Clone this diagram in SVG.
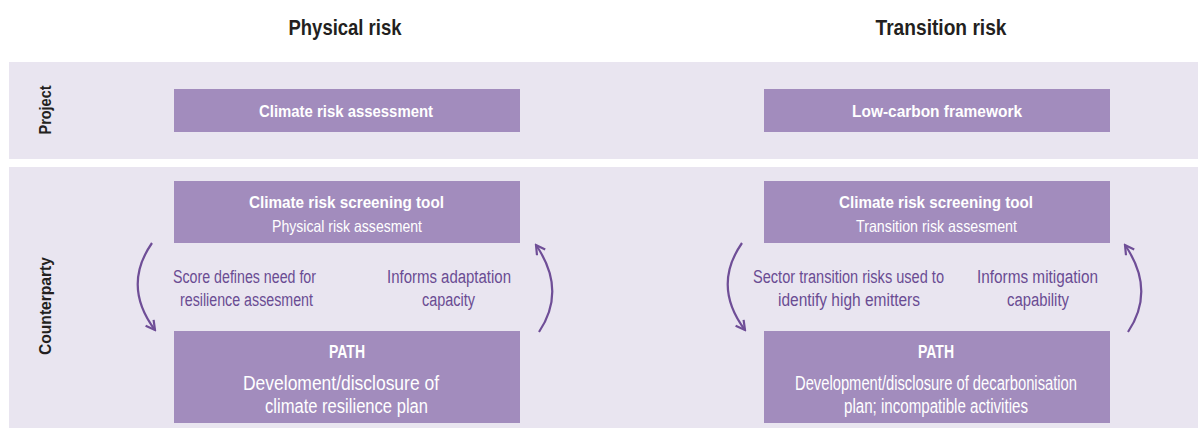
<svg xmlns="http://www.w3.org/2000/svg" width="1198" height="432" viewBox="0 0 1198 432">
<defs>
<style>
text{font-family:"Liberation Sans",Arial,sans-serif;text-anchor:middle}
.band{fill:#e9e5f0}
.box{fill:#a28cbd}
.hd{font-weight:bold;font-size:22px;fill:#231f20}
.row{font-weight:bold;font-size:16.5px;fill:#231f20}
.bt{font-weight:bold;font-size:17px;fill:#ffffff}
.rt{font-size:16.5px;fill:#ffffff}
.pt{font-size:19.5px;fill:#ffffff}
.pb{font-weight:bold;font-size:19px;fill:#ffffff}
.lb{font-size:18px;fill:#6a4c93}
.arr{fill:none;stroke:#6f4e97;stroke-width:2.2;marker-end:url(#head)}
</style>
<marker id="head" viewBox="0 0 12 12" refX="10" refY="6" markerWidth="12" markerHeight="12" markerUnits="userSpaceOnUse" orient="auto">
<path d="M1,1 L10,6 L1,11" fill="none" stroke="#6f4e97" stroke-width="2.2"/>
</marker>
</defs>
<rect width="1198" height="432" fill="#ffffff"/>
<g id="headings">
<text class="hd" x="345" y="35" textLength="113" lengthAdjust="spacingAndGlyphs">Physical risk</text>
<text class="hd" x="941" y="35" textLength="131" lengthAdjust="spacingAndGlyphs">Transition risk</text>
</g>
<g id="band-project">
<rect class="band" x="9" y="62" width="1189" height="97"/>
<text class="row" transform="translate(51,110) rotate(-90)" textLength="49" lengthAdjust="spacingAndGlyphs">Project</text>
</g>
<g id="band-counterparty">
<rect class="band" x="9" y="167" width="1189" height="261"/>
<text class="row" transform="translate(51,306) rotate(-90)" textLength="98" lengthAdjust="spacingAndGlyphs">Counterparty</text>
</g>
<g id="node-climate-risk-assessment">
<rect class="box" x="174" y="89" width="346" height="43"/>
<text class="bt" x="346" y="117" textLength="174" lengthAdjust="spacingAndGlyphs">Climate risk assessment</text>
</g>
<g id="node-low-carbon">
<rect class="box" x="764" y="89" width="346" height="43"/>
<text class="bt" x="937" y="117" textLength="170" lengthAdjust="spacingAndGlyphs">Low-carbon framework</text>
</g>
<g id="node-screening-physical">
<rect class="box" x="174" y="181" width="346" height="62"/>
<text class="bt" x="346.5" y="208" textLength="195" lengthAdjust="spacingAndGlyphs">Climate risk screening tool</text>
<text class="rt" x="347" y="232" textLength="150" lengthAdjust="spacingAndGlyphs">Physical risk assesment</text>
</g>
<g id="node-screening-transition">
<rect class="box" x="764" y="181" width="346" height="62"/>
<text class="bt" x="936" y="208" textLength="194" lengthAdjust="spacingAndGlyphs">Climate risk screening tool</text>
<text class="rt" x="936.5" y="232" textLength="161" lengthAdjust="spacingAndGlyphs">Transition risk assesment</text>
</g>
<g id="node-path-physical">
<rect class="box" x="174" y="331" width="346" height="92"/>
<text class="pb" x="347" y="358" textLength="36" lengthAdjust="spacingAndGlyphs">PATH</text>
<text class="pt" x="341" y="390" textLength="196" lengthAdjust="spacingAndGlyphs">Develoment/disclosure of</text>
<text class="pt" x="346.5" y="413" textLength="163" lengthAdjust="spacingAndGlyphs">climate resilience plan</text>
</g>
<g id="node-path-transition">
<rect class="box" x="764" y="331" width="346" height="92"/>
<text class="pb" x="936" y="358" textLength="36" lengthAdjust="spacingAndGlyphs">PATH</text>
<text class="pt" x="936" y="390" textLength="282" lengthAdjust="spacingAndGlyphs">Development/disclosure of decarbonisation</text>
<text class="pt" x="936" y="413" textLength="184" lengthAdjust="spacingAndGlyphs">plan; incompatible activities</text>
</g>
<g id="labels">
<text class="lb" x="244.5" y="283" textLength="143" lengthAdjust="spacingAndGlyphs">Score defines need for</text>
<text class="lb" x="246.5" y="306" textLength="133" lengthAdjust="spacingAndGlyphs">resilience assesment</text>
<text class="lb" x="449" y="283" textLength="124" lengthAdjust="spacingAndGlyphs">Informs adaptation</text>
<text class="lb" x="448.5" y="306" textLength="53" lengthAdjust="spacingAndGlyphs">capacity</text>
<text class="lb" x="848.5" y="283" textLength="191" lengthAdjust="spacingAndGlyphs">Sector transition risks used to</text>
<text class="lb" x="849" y="306" textLength="142" lengthAdjust="spacingAndGlyphs">identify high emitters</text>
<text class="lb" x="1037.5" y="283" textLength="121" lengthAdjust="spacingAndGlyphs">Informs mitigation</text>
<text class="lb" x="1038" y="306" textLength="62" lengthAdjust="spacingAndGlyphs">capability</text>
</g>
<g id="connectors">
<path class="arr" d="M152,243 Q122,286 155,330"/>
<path class="arr" d="M539,332 Q567,290 536,245"/>
<path class="arr" d="M742,243 Q712,286 745,330"/>
<path class="arr" d="M1128,332 Q1156,290 1125,245"/>
</g>
</svg>
